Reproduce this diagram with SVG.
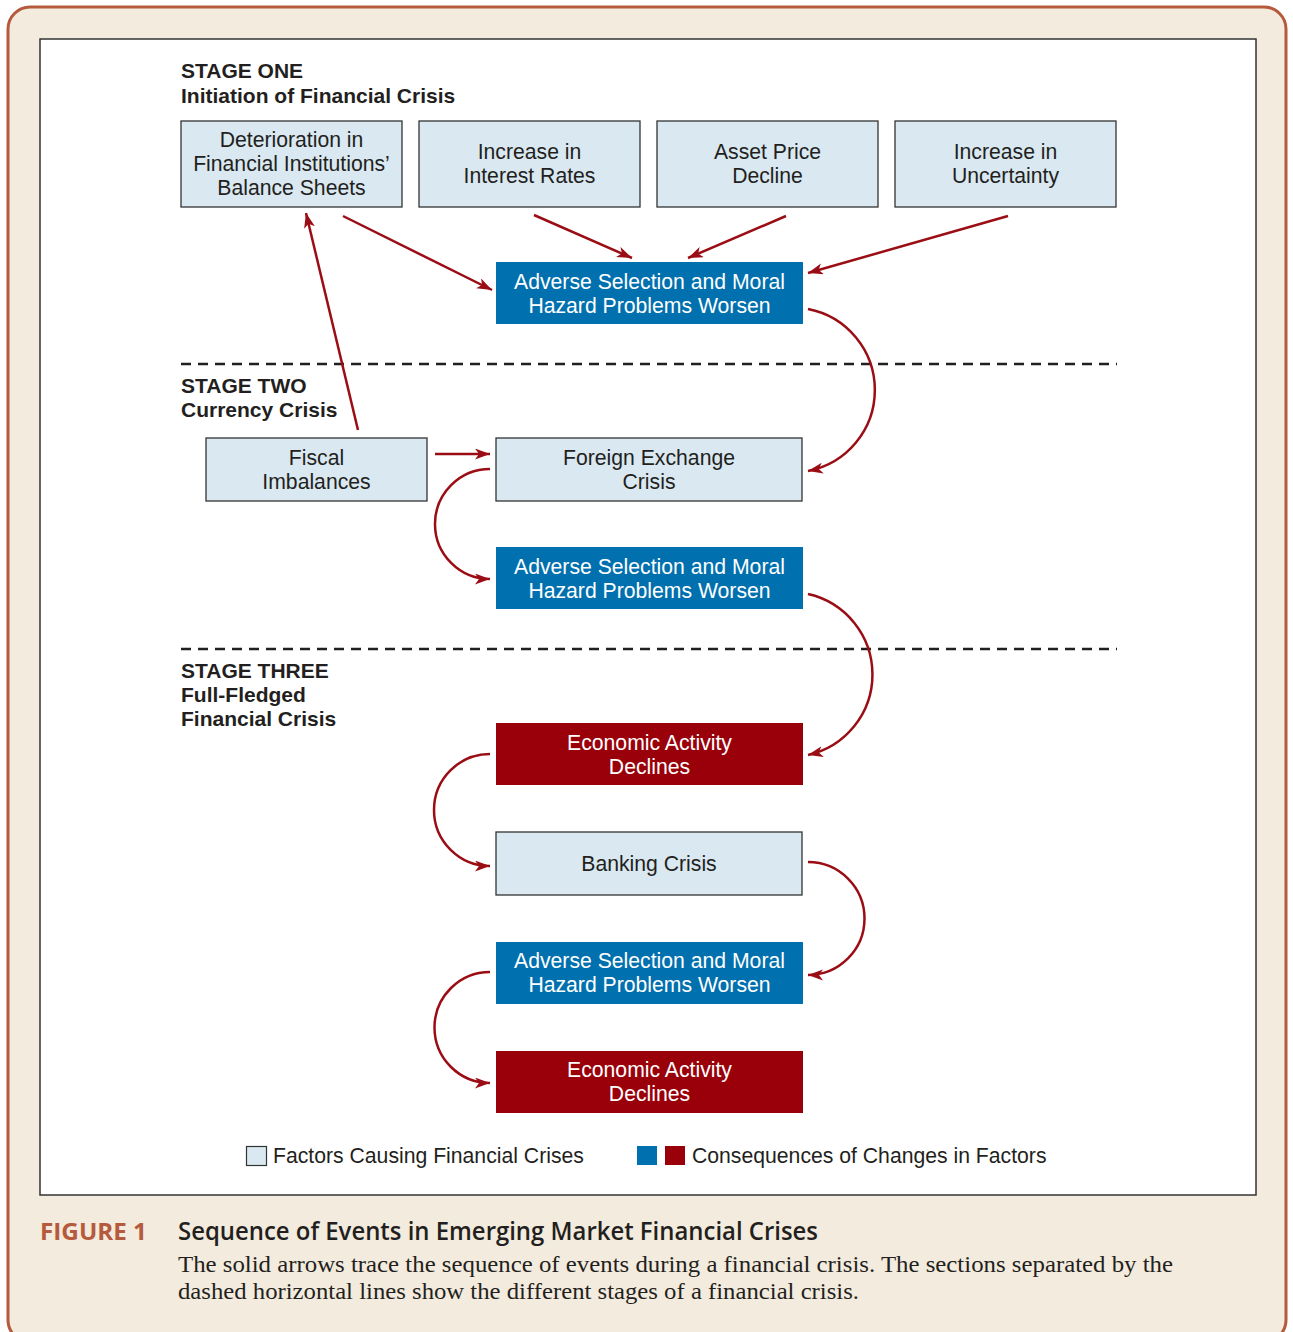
<svg xmlns="http://www.w3.org/2000/svg" width="1293" height="1332" viewBox="0 0 1293 1332">
<style>
.box{stroke:#333;stroke-width:1.3}
.light{fill:#d9e8f1}
.blue{fill:#0070ae}
.red{fill:#99000a}
.t{font-family:"Liberation Sans",Arial,sans-serif;font-size:21.2px;text-anchor:middle;fill:#231f20}
.tw{font-family:"Liberation Sans",Arial,sans-serif;font-size:21.2px;text-anchor:middle;fill:#ffffff}
.st{font-family:"Liberation Sans",Arial,sans-serif;font-size:21px;font-weight:bold;fill:#231f20}
.lg{font-family:"Liberation Sans",Arial,sans-serif;font-size:21.2px;fill:#231f20}
.ar{fill:none;stroke:#9b0d14;stroke-width:2.5;marker-end:url(#ah)}
.dash{stroke:#231f20;stroke-width:2.5;stroke-dasharray:10 7}
</style>
<defs>
<marker id="ah" markerUnits="userSpaceOnUse" markerWidth="16" markerHeight="12" refX="15" refY="5.5" orient="auto">
<path d="M0,0 L15,5.5 L0,11 L4,5.5 z" fill="#9b0d14"/>
</marker>
</defs>
<rect x="8" y="7" width="1278" height="1335" rx="22" fill="#f3ebdd" stroke="#b55a3c" stroke-width="3"/>
<rect x="40" y="39" width="1216" height="1156" fill="#ffffff" stroke="#333" stroke-width="1.5"/>

<g id="headers">
<text class="st" x="181" y="78">STAGE ONE</text>
<text class="st" x="181" y="103">Initiation of Financial Crisis</text>
<text class="st" x="181" y="393">STAGE TWO</text>
<text class="st" x="181" y="417">Currency Crisis</text>
<text class="st" x="181" y="678">STAGE THREE</text>
<text class="st" x="181" y="702">Full-Fledged</text>
<text class="st" x="181" y="726">Financial Crisis</text>
</g>

<g id="dividers">
<line class="dash" x1="181" y1="364" x2="1117" y2="364"/>
<line class="dash" x1="181" y1="649" x2="1117" y2="649"/>
</g>

<g id="n-deterioration">
<rect class="box light" x="181" y="121" width="221" height="86"/>
<text class="t" x="291.5" y="147">Deterioration in</text>
<text class="t" x="291.5" y="171">Financial Institutions’</text>
<text class="t" x="291.5" y="195">Balance Sheets</text>
</g>
<g id="n-interest">
<rect class="box light" x="419" y="121" width="221" height="86"/>
<text class="t" x="529.5" y="159">Increase in</text>
<text class="t" x="529.5" y="183">Interest Rates</text>
</g>
<g id="n-asset">
<rect class="box light" x="657" y="121" width="221" height="86"/>
<text class="t" x="767.5" y="159">Asset Price</text>
<text class="t" x="767.5" y="183">Decline</text>
</g>
<g id="n-uncertainty">
<rect class="box light" x="895" y="121" width="221" height="86"/>
<text class="t" x="1005.5" y="159">Increase in</text>
<text class="t" x="1005.5" y="183">Uncertainty</text>
</g>
<g id="n-adverse1">
<rect class="blue" x="496" y="262" width="307" height="62"/>
<text class="tw" x="649.5" y="289">Adverse Selection and Moral</text>
<text class="tw" x="649.5" y="313">Hazard Problems Worsen</text>
</g>
<g id="n-fiscal">
<rect class="box light" x="206" y="438" width="221" height="63"/>
<text class="t" x="316.5" y="465">Fiscal</text>
<text class="t" x="316.5" y="489">Imbalances</text>
</g>
<g id="n-fx">
<rect class="box light" x="496" y="438" width="306" height="63"/>
<text class="t" x="649" y="465">Foreign Exchange</text>
<text class="t" x="649" y="489">Crisis</text>
</g>
<g id="n-adverse2">
<rect class="blue" x="496" y="547" width="307" height="62"/>
<text class="tw" x="649.5" y="574">Adverse Selection and Moral</text>
<text class="tw" x="649.5" y="598">Hazard Problems Worsen</text>
</g>
<g id="n-econ1">
<rect class="red" x="496" y="723" width="307" height="62"/>
<text class="tw" x="649.5" y="750">Economic Activity</text>
<text class="tw" x="649.5" y="774">Declines</text>
</g>
<g id="n-banking">
<rect class="box light" x="496" y="832" width="306" height="63"/>
<text class="t" x="649" y="871">Banking Crisis</text>
</g>
<g id="n-adverse3">
<rect class="blue" x="496" y="942" width="307" height="62"/>
<text class="tw" x="649.5" y="968">Adverse Selection and Moral</text>
<text class="tw" x="649.5" y="992">Hazard Problems Worsen</text>
</g>
<g id="n-econ2">
<rect class="red" x="496" y="1051" width="307" height="62"/>
<text class="tw" x="649.5" y="1077">Economic Activity</text>
<text class="tw" x="649.5" y="1101">Declines</text>
</g>

<g id="connectors">
<path class="ar" d="M343,216 L492,290"/>
<path class="ar" d="M534,215 L632,258"/>
<path class="ar" d="M786,216 L688,258"/>
<path class="ar" d="M1008,216 L808,273"/>
<path class="ar" d="M358,430 L306,213"/>
<path class="ar" d="M808,309 A82.5,82.5 0 0 1 808,471"/>
<path class="ar" d="M435,454 L490,454"/>
<path class="ar" d="M490,469 A55,55 0 0 0 490,579"/>
<path class="ar" d="M808,594 A82.5,82.5 0 0 1 808,755"/>
<path class="ar" d="M490,754 A55.5,55.5 0 0 0 490,866"/>
<path class="ar" d="M808,862 A56.5,56.5 0 0 1 808,975"/>
<path class="ar" d="M490,972 A55.5,55.5 0 0 0 490,1083"/>
</g>

<g id="legend">
<rect x="246.5" y="1146.5" width="20" height="19" fill="#d9e8f1" stroke="#333" stroke-width="1.2"/>
<text class="lg" x="273" y="1163">Factors Causing Financial Crises</text>
<rect x="637" y="1146" width="20" height="19" fill="#0070ae"/>
<rect x="665" y="1146" width="20" height="19" fill="#99000a"/>
<text class="lg" x="692" y="1163">Consequences of Changes in Factors</text>
</g>

<g id="caption">
<text x="40" y="1240" font-family="'Open Sans',sans-serif" font-weight="bold" font-size="24" fill="#b55a3c" textLength="107" lengthAdjust="spacingAndGlyphs">FIGURE 1</text>
<text x="178" y="1240" font-family="'Open Sans',sans-serif" font-weight="600" font-size="25" fill="#231f20" textLength="640" lengthAdjust="spacingAndGlyphs">Sequence of Events in Emerging Market Financial Crises</text>
<text x="178" y="1272" font-family="'Liberation Serif','Times New Roman',serif" font-size="23" fill="#231f20" textLength="995" lengthAdjust="spacingAndGlyphs">The solid arrows trace the sequence of events during a financial crisis. The sections separated by the</text>
<text x="178" y="1299" font-family="'Liberation Serif','Times New Roman',serif" font-size="23" fill="#231f20" textLength="681" lengthAdjust="spacingAndGlyphs">dashed horizontal lines show the different stages of a financial crisis.</text>
</g>
</svg>
